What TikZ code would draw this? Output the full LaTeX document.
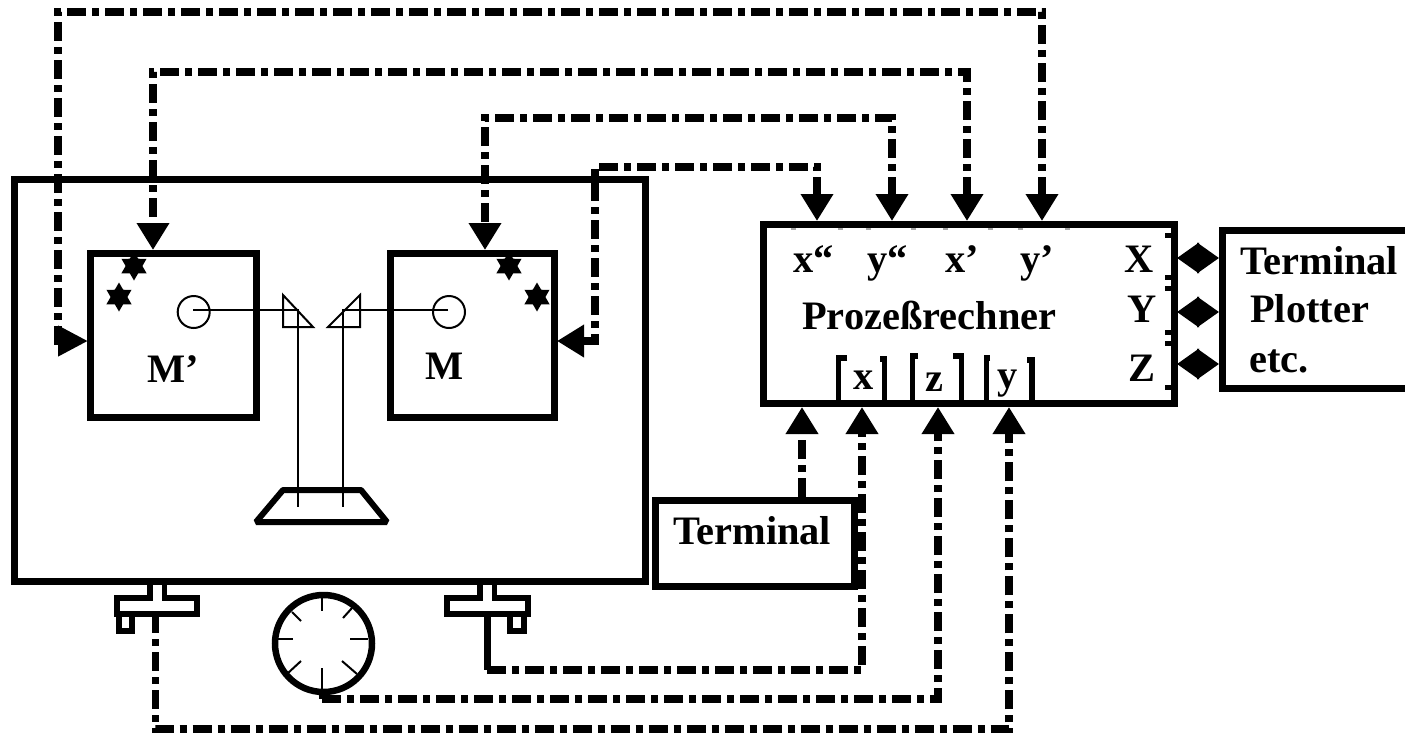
\documentclass[tikz,border=0pt]{standalone}
\usepackage{fontspec}
\setmainfont{Liberation Serif}
\usetikzlibrary{arrows.meta,shapes.geometric}
\tikzset{
  x=1pt,y=-1pt,
  boxed/.style={draw=black,line width=7pt,rectangle,inner sep=0pt,miter limit=10},
  sig/.style={draw=black,line width=7.2pt,dash pattern=on 19pt off 6pt on 7pt off 6pt},
  tipsto/.style={-{Triangle[length=27pt,width=31pt]}},
  tipsboth/.style={{Triangle[length=27pt,width=31pt]}-{Triangle[length=27pt,width=31pt]}},
  tipswide/.style={{Triangle[length=27pt,width=31pt]}-{Triangle[length=30pt,width=29pt]}},
  dbl/.style={line width=4pt,{Triangle[length=22pt,width=30pt]}-{Triangle[length=22pt,width=30pt]}},
  lab/.style={anchor=base west,inner sep=0pt,font=\bfseries\fontsize{40.4}{48}\selectfont},
  thin line/.style={draw=black,line width=2pt},
  thick line/.style={draw=black,line width=5.5pt},
  mark star/.style={star,star points=6,star point ratio=1.73,fill=black,minimum size=29pt,inner sep=0pt},
  lensc/.style={circle,draw=black,line width=2pt,minimum size=32pt,inner sep=0pt},
}
\begin{document}
\begin{tikzpicture}
\clip (0,0) rectangle (1405,732);
\fill[white] (0,0) rectangle (1405,732);

% boxes
\node[boxed,minimum width=630.5pt,minimum height=402.5pt] (main) at (329.75,380.25) {};
\node[boxed,minimum width=165.5pt,minimum height=163.5pt] (mp) at (173.25,335.25) {};
\node[boxed,minimum width=164pt,minimum height=163.5pt] (m) at (472,335.25) {};
\node[boxed,minimum width=411.5pt,minimum height=179pt] (proz) at (968.75,314) {};
\node[boxed,minimum width=199pt,minimum height=86pt] (term) at (755,543) {};
\node[boxed,minimum width=240pt,minimum height=158pt] (out) at (1342,309) {};

% ports
\coordinate (pxx) at (817,221);
\coordinate (pyy) at (892,221);
\coordinate (px) at (967,221);
\coordinate (py) at (1042,221);
\coordinate (ct1) at (1042,12);
\coordinate (ct1b) at (58,12);
\coordinate (ct1c) at (58,341);
\coordinate (mpl) at (88,341);
\coordinate (ct2) at (967,72);
\coordinate (ct2b) at (153,72);
\coordinate (mpt) at (153,250);
\coordinate (ct3) at (892,118);
\coordinate (ct3b) at (485,118);
\coordinate (mt) at (485,250);
\coordinate (ct4) at (817,167);
\coordinate (ct4b) at (595,167);
\coordinate (ct4c) at (595,341);
\coordinate (mr) at (557,341);
\coordinate (bt) at (802,407);
\coordinate (bx) at (862,407);
\coordinate (bz) at (938,407);
\coordinate (by) at (1009,407);
\coordinate (termtop) at (802,497);

% connectors to processor
\draw[sig,tipswide] (py) -- (ct1) -- (ct1b) -- (ct1c) -- (mpl);
\draw[sig,tipsboth] (px) -- (ct2) -- (ct2b) -- (mpt);
\draw[sig,tipsboth] (pyy) -- (ct3) -- (ct3b) -- (mt);
\draw[sig,tipsboth] (pxx) -- (ct4) -- (ct4b) -- (ct4c) -- (mr);

% stars
\node[mark star] (s1) at (134,266) {};
\node[mark star] (s2) at (119,297) {};
\node[mark star] (s3) at (509,266) {};
\node[mark star] (s4) at (537,297) {};

% optics
\node[lensc] (cl) at (193.7,312) {};
\node[lensc] (cr) at (449,312) {};
\coordinate (bl1) at (193,310);
\coordinate (bl2) at (298,310);
\coordinate (bl3) at (298,507);
\coordinate (br1) at (448,310);
\coordinate (br2) at (343,310);
\coordinate (br3) at (343,507);
\draw[thin line] (bl1) -- (bl2) -- (bl3);
\draw[thin line] (br1) -- (br2) -- (br3);
\draw[thin line] (283,295) -- (283,327) -- (313,327) -- cycle;
\draw[thin line] (360,295) -- (360,327) -- (328,327) -- cycle;
\draw[draw=black,line width=6pt,line join=bevel] (283,490) -- (361,490) -- (387,522) -- (256,522) -- cycle;

% knobs
\draw[thick line] (150,585) -- (150,598) -- (117,598) -- (117,614) -- (197,614) -- (197,598) -- (164.5,598) -- (164.5,585);
\draw[thick line] (119,614) -- (119,631) -- (132,631) -- (132,614);
\draw[thick line] (480,585) -- (480,598) -- (447,598) -- (447,614) -- (528,614) -- (528,598) -- (494.5,598) -- (494.5,585);
\draw[thick line] (510,614) -- (510,631) -- (524,631) -- (524,614);

% gauge
\node[circle,draw=black,line width=6.5pt,minimum size=97pt,inner sep=0pt] (gauge) at (323.5,643.5) {};
\draw[thin line] (322,597) -- (322,611);
\draw[thin line] (278,639) -- (293,639);
\draw[thin line] (350,639) -- (368,639);
\draw[thin line] (322,668) -- (322,690);
\draw[thin line] (292,612) -- (301,621);
\draw[thin line] (343,618) -- (352,608);
\draw[thin line] (301,661) -- (288,673);
\draw[thin line] (342,661) -- (357,674);

% bottom connectors
\coordinate (kr0) at (487,614);
\coordinate (kr1) at (487,670);
\coordinate (kr2) at (862,670);
\coordinate (g0) at (322,689);
\coordinate (g1) at (322,699);
\coordinate (g2) at (938,699);
\coordinate (kl0) at (155.7,614);
\coordinate (kl1) at (155.7,729);
\coordinate (kl2) at (1009,729);
\draw[draw=black,line width=7pt] (kr0) -- (kr1);
\draw[sig,tipsto] (kr1) -- (kr2) -- (bx);
\draw[draw=black,line width=7pt] (g0) -- (g1);
\draw[sig,tipsto] (g1) -- (g2) -- (bz);
\draw[sig,tipsto] (kl0) -- (kl1) -- (kl2) -- (by);
\draw[sig,tipsto] (termtop) -- (bt);

% brackets in processor
\draw[thick line] (847,358) -- (838.5,358) -- (838.5,403);
\draw[thick line] (880,359) -- (884.5,359) -- (884.5,403);
\draw[thick line] (918,356) -- (912.5,356) -- (912.5,403);
\draw[thick line] (953,356) -- (961.5,356) -- (961.5,403);
\draw[thick line] (990,358) -- (986.5,358) -- (986.5,403);
\draw[thick line] (1027,360) -- (1032,360) -- (1032,403);

% inner ticks on the processor's right edge
\foreach \ty in {235,277,288,332,343,387}{
  \fill[black] (1165,\ty-2.5) rectangle (1172,\ty+2.5);
}
% faint marks under the processor's top edge
\foreach \tx in {793,840,868,913,945,990,1020,1067}{
  \fill[gray!70] (\tx-2.5,228) rectangle (\tx+2.5,229.5);
}

% double arrows
\coordinate (qx) at (1177,258);
\coordinate (rx) at (1219,258);
\coordinate (qy) at (1177,312);
\coordinate (ry) at (1219,312);
\coordinate (qz) at (1177,364);
\coordinate (rz) at (1219,364);
\draw[dbl] (qx) -- (rx);
\draw[dbl] (qy) -- (ry);
\draw[dbl] (qz) -- (rz);

% text
\node[lab] (t1) at (793,272) {x“};
\node[lab] (t2) at (867,272) {y“};
\node[lab] (t3) at (945,272) {x’};
\node[lab] (t4) at (1020,272) {y’};
\node[lab] (t5) at (1124,272) {X};
\node[lab] (t6) at (1127,322) {Y};
\node[lab] (t7) at (1128,381) {Z};
\node[lab] (t8) at (802,329) {Prozeßrechner};
\node[lab] (t9) at (853,389) {x};
\node[lab] (t10) at (925,391) {z};
\node[lab] (t11) at (997,388) {y};
\node[lab] (t12) at (1240,274) {Terminal};
\node[lab] (t13) at (1250,322) {Plotter};
\node[lab] (t14) at (1249,372) {etc.};
\node[lab] (t15) at (673,544) {Terminal};
\node[lab] (t16) at (147,382) {M’};
\node[lab] (t17) at (425,379) {M};
\end{tikzpicture}
\end{document}
